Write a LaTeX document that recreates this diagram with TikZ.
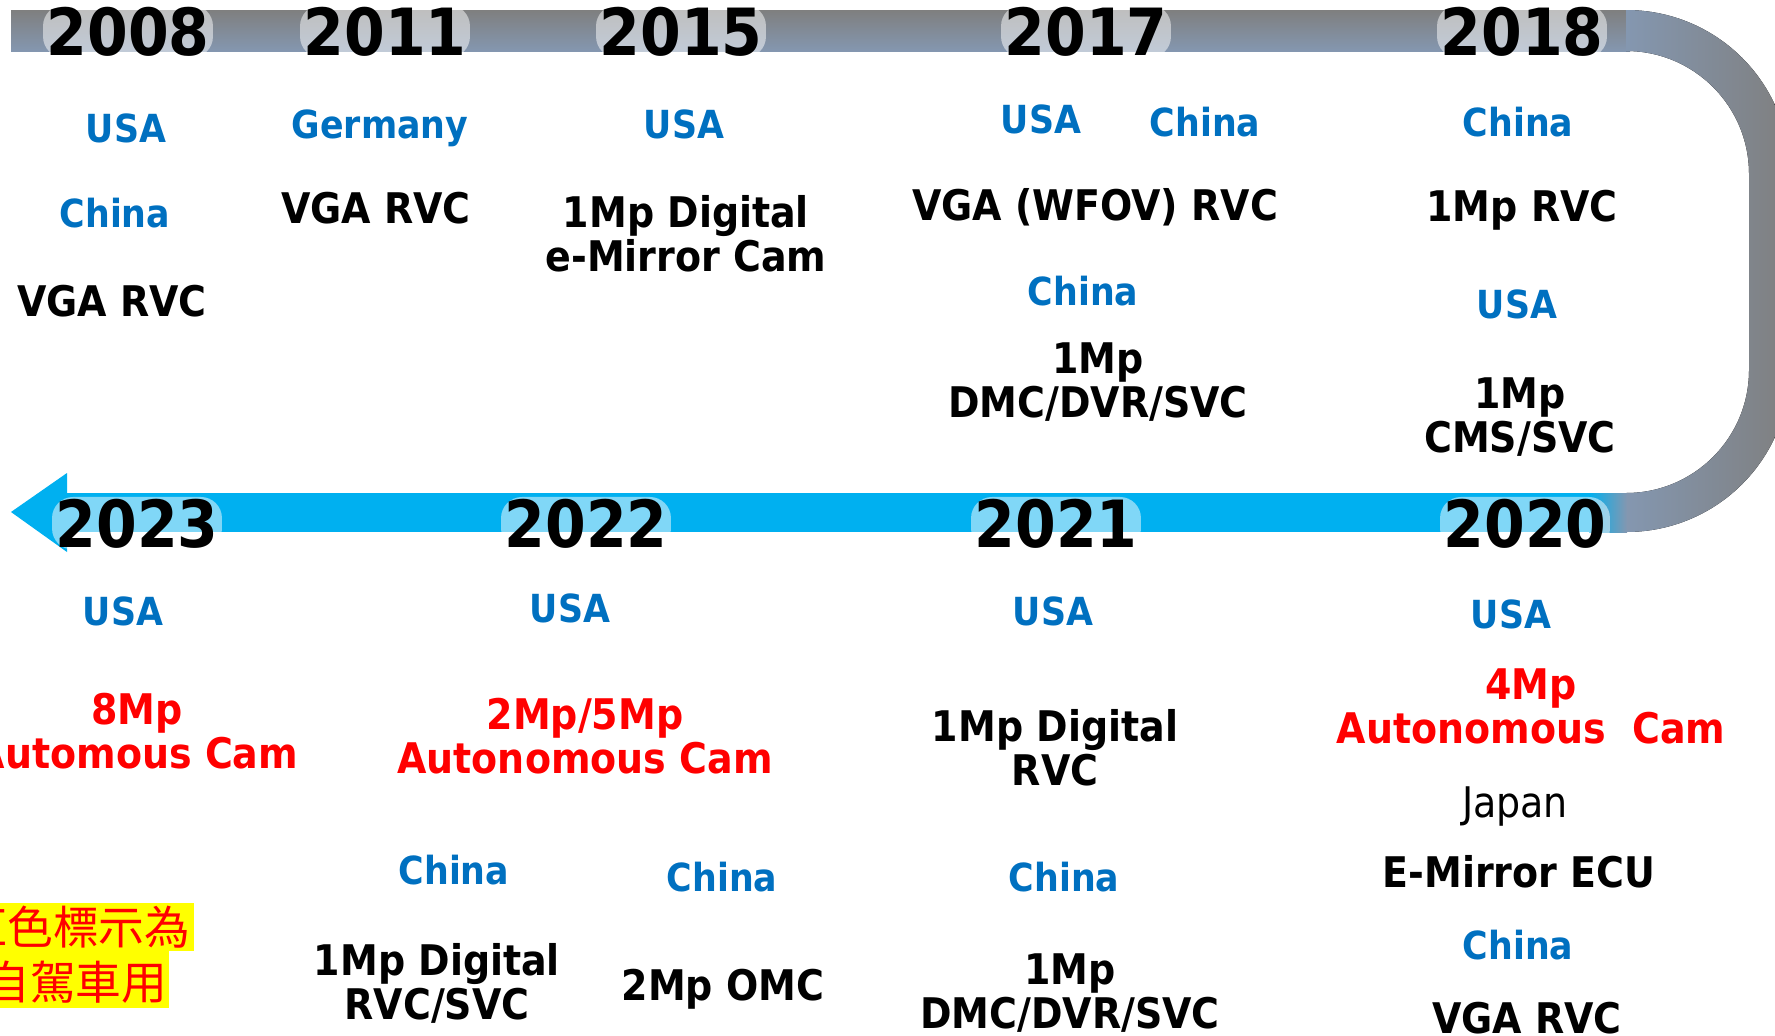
\documentclass[tikz,border=0pt]{standalone}
\usepackage{fontspec}
\setmainfont{DejaVu Sans Condensed}
\newfontfamily\cjkfont{Noto Sans CJK TC}

\definecolor{ctryblue}{HTML}{0070C0}
\definecolor{autored}{HTML}{FF0000}
\definecolor{linecyan}{HTML}{00B0F0}
\definecolor{linegray}{HTML}{7F7F7F}
\definecolor{lineblue}{HTML}{8497B0}
\definecolor{notebg}{HTML}{FFFF00}

\begin{document}
\begin{tikzpicture}[x=0.01cm, y=-0.01cm,
  year/.style={anchor=base, inner xsep=1pt, inner ysep=0.5pt, rounded corners=6pt,
    fill=white, fill opacity=0.5, text opacity=1, font=\fontsize{18.5}{20}\selectfont\bfseries},
  country/.style={anchor=base, inner sep=0pt, text=ctryblue, font=\fontsize{11}{13}\selectfont\bfseries},
  item/.style={anchor=base, inner sep=0pt, align=center, font=\fontsize{12}{12.3}\selectfont\bfseries},
  auto item/.style={item, text=autored},
  maker/.style={anchor=base, inner sep=0pt, font=\fontsize{12}{12.3}\selectfont}]

\useasboundingbox (0,0) rectangle (1775,1036);
\clip (0,0) rectangle (1775,1036);

% time line
\fill[top color=linegray, bottom color=lineblue] (11,10) rectangle (1630,51);
\fill[left color=lineblue, right color=linegray] (1626,10) .. controls (1717,10) and (1790,83) .. (1790,174)
  -- (1790,368) .. controls (1790,459) and (1717,532) .. (1626,532) -- (1626,493)
  .. controls (1694,493) and (1749,438) .. (1749,370) -- (1749,174)
  .. controls (1749,106) and (1694,51) .. (1626,51) -- cycle;
\fill[linecyan] (67,493) rectangle (1590,532);
\fill[left color=linecyan, right color=lineblue] (1589,493) rectangle (1627,532);
\fill[linecyan] (11,512) -- (67,473) -- (67,552) -- cycle;

% years
\node[year] (y2008) at (128,55)   {2008};
\node[year] (y2011) at (385,55)   {2011};
\node[year] (y2015) at (681,55)   {2015};
\node[year] (y2017) at (1086,55)  {2017};
\node[year] (y2018) at (1522,55)  {2018};
\node[year] (y2023) at (137,547)  {2023};
\node[year] (y2022) at (586,547)  {2022};
\node[year] (y2021) at (1056,547) {2021};
\node[year] (y2020) at (1525,547) {2020};

% 2008 - 2018
\node[country] (usa08)  at (126,142)  {USA};
\node[country] (chn08)  at (115,227)  {China};
\node[item]    (rvc08)  at (112,316)  {VGA RVC};
\node[country] (ger11)  at (380,138)  {Germany};
\node[item]    (rvc11)  at (376,223)  {VGA RVC};
\node[country] (usa15)  at (684,138)  {USA};
\node[item]    (mir15)  at (686,271)  {1Mp Digital\\e-Mirror Cam};
\node[country] (usa17)  at (1041,133) {USA};
\node[country] (chn17)  at (1205,136) {China};
\node[item]    (rvc17)  at (1095,220) {VGA (WFOV) RVC};
\node[country] (chn17b) at (1083,305) {China};
\node[item]    (dmc17)  at (1098,417) {1Mp\\DMC/DVR/SVC};
\node[country] (chn18)  at (1518,136) {China};
\node[item]    (rvc18)  at (1522,221) {1Mp RVC};
\node[country] (usa18)  at (1517,318) {USA};
\node[item]    (cms18)  at (1520,452) {1Mp\\CMS/SVC};

% 2020 - 2023
\node[country]   (usa23)  at (123,625)   {USA};
\node[auto item] (cam23)  at (137,768)   {8Mp\\Automous Cam};
\node[country]   (usa22)  at (570,622)   {USA};
\node[auto item] (cam22)  at (585,773)   {2Mp/5Mp\\Autonomous Cam};
\node[country]   (chn22a) at (454,884)   {China};
\node[country]   (chn22b) at (722,891)   {China};
\node[item]      (rvc22)  at (437,1019)  {1Mp Digital\\RVC/SVC};
\node[item]      (omc22)  at (723,1000)  {2Mp OMC};
\node[country]   (usa21)  at (1053,625)  {USA};
\node[item]      (rvc21)  at (1055,785)  {1Mp Digital\\RVC};
\node[country]   (chn21)  at (1064,891)  {China};
\node[item]      (dmc21)  at (1070,1028) {1Mp\\DMC/DVR/SVC};
\node[country]   (usa20)  at (1511,628)  {USA};
\node[auto item] (cam20)  at (1531,743)  {4Mp\\Autonomous~~Cam};
\node[maker]     (jpn20)  at (1515,817)  {Japan};
\node[item]      (ecu20)  at (1519,887)  {E-Mirror ECU};
\node[country]   (chn20)  at (1518,959)  {China};
\node[item]      (rvc20)  at (1527,1033) {VGA RVC};

% note
\fill[notebg] (-60,903) rectangle (194,951);
\fill[notebg] (-60,951) rectangle (169,1008);
\node[anchor=base, inner sep=0pt, align=center, text=autored,
  font=\cjkfont\fontsize{13}{15.6}\selectfont] (note) at (76,999) {紅色標示為\\自駕車用};
\end{tikzpicture}
\end{document}
